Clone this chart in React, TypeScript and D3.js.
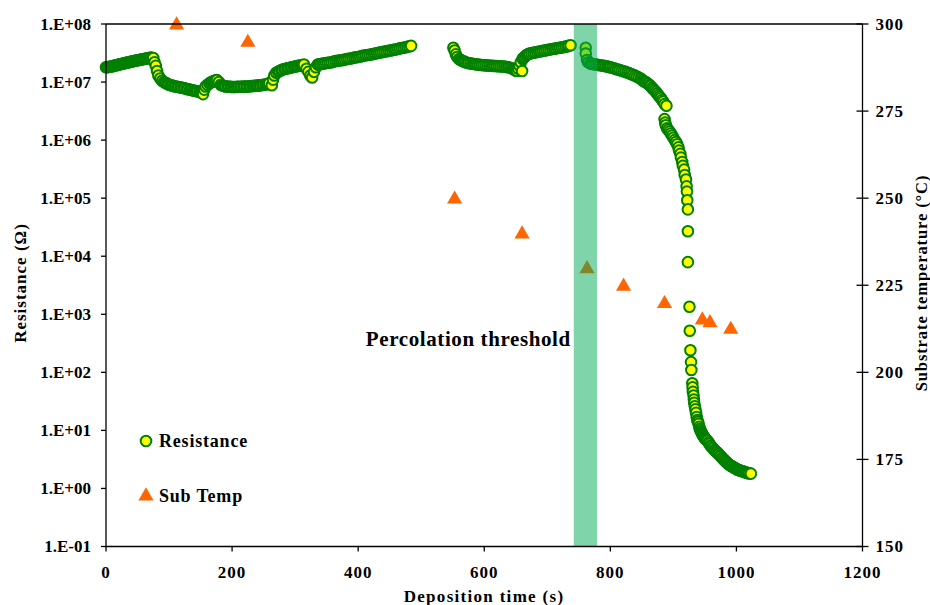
import * as d3 from "d3";

// axis ticks
const timeTicks = [0, 200, 400, 600, 800, 1000, 1200];
const resTicks = [1e-1, 1e0, 1e1, 1e2, 1e3, 1e4, 1e5, 1e6, 1e7, 1e8];
const resTickLabels = ["1.E-01", "1.E+00", "1.E+01", "1.E+02", "1.E+03", "1.E+04", "1.E+05", "1.E+06", "1.E+07", "1.E+08"];
const tempTicks = [150, 175, 200, 225, 250, 275, 300];

// substrate temperature (triangles)
const tempTime = [112, 225, 553, 660, 763, 821, 886, 946, 958, 991];
const tempValue = [300, 295, 250, 240, 230, 225, 220, 215.3, 214.5, 212.6];

// percolation threshold band (s)
const thresholdStart = 742;
const thresholdEnd = 779;

// resistance: [time (s), ohm]
const resistance: [number, number][] = [
  [0, 1.8e7], [2, 1.81e7], [4, 1.82e7], [6, 1.84e7], [8, 1.85e7], [10, 1.87e7], [12, 1.9e7], [14, 1.92e7],
  [16, 1.95e7], [18, 1.97e7], [20, 2.0e7], [22, 2.02e7], [24, 2.05e7], [26, 2.07e7], [28, 2.1e7], [30, 2.12e7],
  [32, 2.15e7], [34, 2.17e7], [36, 2.2e7], [38, 2.22e7], [40, 2.25e7], [42, 2.27e7], [44, 2.3e7], [46, 2.32e7],
  [48, 2.35e7], [50, 2.37e7], [52, 2.4e7], [54, 2.42e7], [56, 2.45e7], [58, 2.47e7], [60, 2.5e7], [62, 2.52e7],
  [64, 2.55e7], [66, 2.57e7], [68, 2.6e7], [70, 2.62e7], [72, 2.65e7], [75, 2.6e7], [77, 2.2e7], [79, 1.9e7],
  [81, 1.55e7], [83, 1.3e7], [86, 1.15e7], [89, 1.05e7], [92, 1.0e7], [94, 9.7e6], [96, 9.5e6], [98, 9.2e6],
  [100, 9.0e6], [103, 8.8e6], [105, 8.7e6], [108, 8.5e6], [110, 8.4e6], [113, 8.3e6], [115, 8.2e6], [118, 8.1e6],
  [120, 8.0e6], [123, 7.9e6], [125, 7.8e6], [128, 7.6e6], [130, 7.5e6], [133, 7.4e6], [135, 7.3e6], [138, 7.2e6],
  [140, 7.1e6], [143, 7.0e6], [145, 6.9e6], [148, 6.8e6], [150, 6.7e6], [152, 6.5e6], [154, 6.2e6],
  [156, 7.4e6], [158, 8.4e6], [161, 9.0e6], [164, 9.5e6], [166, 9.8e6], [168, 1.0e7], [170, 1.03e7], [172, 1.05e7],
  [174, 1.07e7], [176, 1.08e7], [179, 1.0e7], [182, 9.0e6], [184, 8.8e6], [186, 8.6e6], [188, 8.5e6], [190, 8.4e6],
  [193, 8.35e6], [195, 8.3e6], [198, 8.25e6], [200, 8.2e6], [203, 8.2e6], [205, 8.2e6], [208, 8.25e6], [210, 8.3e6],
  [213, 8.3e6], [215, 8.3e6], [218, 8.35e6], [220, 8.4e6], [223, 8.4e6], [225, 8.4e6], [228, 8.45e6], [230, 8.5e6],
  [233, 8.55e6], [235, 8.6e6], [238, 8.65e6], [240, 8.7e6], [243, 8.75e6], [245, 8.8e6], [248, 8.9e6], [250, 9.0e6],
  [253, 9.1e6], [255, 9.2e6], [257, 9.3e6], [259, 9.5e6], [263, 8.8e6], [265, 1.1e7], [267, 1.3e7], [270, 1.45e7],
  [273, 1.5e7], [275, 1.55e7], [278, 1.6e7], [280, 1.65e7], [283, 1.68e7], [285, 1.7e7], [288, 1.73e7], [290, 1.75e7],
  [293, 1.78e7], [295, 1.8e7], [298, 1.83e7], [300, 1.85e7], [303, 1.88e7], [305, 1.9e7], [308, 1.93e7], [310, 1.95e7],
  [312, 1.97e7], [314, 2.0e7], [318, 1.7e7], [321, 1.5e7], [324, 1.3e7], [327, 1.2e7], [330, 1.5e7], [333, 1.8e7],
  [336, 2.0e7], [338, 2.02e7], [340, 2.05e7], [343, 2.07e7], [346, 2.1e7], [349, 2.12e7], [352, 2.15e7], [355, 2.17e7],
  [358, 2.2e7], [361, 2.25e7], [364, 2.3e7], [367, 2.32e7], [370, 2.35e7], [373, 2.37e7], [376, 2.4e7], [379, 2.45e7],
  [382, 2.5e7], [385, 2.52e7], [388, 2.55e7], [391, 2.6e7], [394, 2.65e7], [397, 2.67e7], [400, 2.7e7], [403, 2.75e7],
  [406, 2.8e7], [409, 2.85e7], [412, 2.9e7], [415, 2.92e7], [418, 2.95e7], [421, 3.0e7], [424, 3.05e7], [427, 3.1e7],
  [430, 3.15e7], [433, 3.2e7], [436, 3.25e7], [439, 3.3e7], [442, 3.35e7], [445, 3.4e7], [448, 3.45e7], [451, 3.5e7],
  [454, 3.55e7], [457, 3.6e7], [460, 3.65e7], [463, 3.72e7], [466, 3.8e7], [469, 3.85e7], [472, 3.9e7], [475, 3.97e7],
  [478, 4.05e7], [481, 4.12e7], [484, 4.2e7],
  [551, 3.9e7], [553, 3.5e7], [555, 3.0e7], [557, 2.7e7], [560, 2.5e7], [562, 2.42e7], [564, 2.35e7], [566, 2.3e7],
  [568, 2.25e7], [570, 2.2e7], [573, 2.15e7], [575, 2.12e7], [578, 2.1e7], [581, 2.07e7], [584, 2.05e7], [587, 2.02e7],
  [590, 2.0e7], [593, 1.98e7], [596, 1.97e7], [599, 1.95e7], [602, 1.94e7], [605, 1.93e7], [608, 1.92e7], [611, 1.91e7],
  [614, 1.9e7], [617, 1.89e7], [620, 1.88e7], [623, 1.87e7], [626, 1.86e7], [629, 1.85e7], [632, 1.85e7], [635, 1.82e7],
  [638, 1.8e7], [641, 1.76e7], [644, 1.72e7], [646, 1.67e7], [648, 1.62e7], [650, 1.58e7], [652, 1.55e7], [654, 1.7e7],
  [656, 1.9e7], [658, 2.2e7], [660, 1.55e7], [661, 2.5e7], [662, 2.6e7], [664, 2.7e7], [666, 2.85e7], [668, 2.95e7],
  [670, 3.05e7], [672, 3.1e7], [675, 3.15e7], [678, 3.2e7], [681, 3.25e7], [684, 3.3e7], [687, 3.35e7], [690, 3.4e7],
  [693, 3.45e7], [696, 3.5e7], [699, 3.55e7], [702, 3.6e7], [705, 3.65e7], [708, 3.7e7], [711, 3.75e7], [714, 3.8e7],
  [717, 3.85e7], [720, 3.9e7], [723, 3.95e7], [726, 4.0e7], [729, 4.07e7], [732, 4.15e7], [734, 4.2e7], [737, 4.3e7],
  [761, 3.9e7], [761, 3.1e7], [763, 2.4e7], [765, 2.2e7], [768, 2.1e7], [770, 2.07e7], [772, 2.05e7], [775, 2.02e7],
  [778, 2.0e7], [781, 1.97e7], [784, 1.95e7], [787, 1.92e7], [790, 1.9e7], [793, 1.87e7], [796, 1.85e7], [798, 1.82e7],
  [800, 1.8e7], [803, 1.76e7], [806, 1.72e7], [809, 1.68e7], [812, 1.65e7], [815, 1.61e7], [818, 1.57e7], [821, 1.53e7],
  [824, 1.5e7], [827, 1.46e7], [830, 1.42e7], [833, 1.37e7], [836, 1.33e7], [839, 1.29e7], [842, 1.25e7], [845, 1.2e7],
  [848, 1.15e7], [850, 1.1e7], [852, 1.05e7], [854, 1.02e7], [856, 1.0e7], [858, 9.6e6], [860, 9.3e6], [862, 8.9e6],
  [864, 8.5e6], [866, 8.0e6], [868, 7.6e6], [870, 7.2e6], [872, 6.8e6], [874, 6.4e6], [876, 6.0e6], [878, 5.6e6],
  [880, 5.3e6], [882, 4.9e6], [884, 4.6e6], [886, 4.2e6], [889, 3.9e6],
  [886, 2.3e6], [887, 2.0e6], [888, 1.8e6], [890, 1.6e6], [892, 1.5e6], [894, 1.4e6], [896, 1.3e6], [898, 1.2e6],
  [900, 1.1e6], [902, 1.0e6], [904, 9.3e5], [906, 8.5e5], [908, 7.5e5], [909, 6.6e5], [911, 5.8e5], [912, 5.0e5],
  [914, 4.2e5], [915, 3.6e5], [917, 3.1e5], [918, 2.5e5], [920, 2.1e5], [921, 1.6e5], [921.5, 1.3e5], [922, 9.2e4],
  [923, 6.4e4], [923, 2.7e4], [923, 7.9e3], [925.5, 1.35e3], [926, 5.2e2], [927, 2.4e2], [928, 1.5e2], [928.5, 1.1e2],
  [930, 6.5e1], [930.5, 5.5e1], [931, 4.6e1], [932, 4.0e1], [932.5, 3.4e1], [933, 3.0e1], [934, 2.6e1], [935, 2.3e1],
  [936, 2.0e1], [937, 1.7e1], [938, 1.5e1], [939, 1.4e1], [940, 1.3e1], [941, 1.15e1], [942, 1.07e1], [943, 1.0e1],
  [944, 9.5], [945, 9.0], [946, 8.6], [947, 8.2], [948, 7.9], [949, 7.6], [950, 7.3], [951, 7.0], [953, 6.8],
  [954, 6.6], [956, 6.2], [957, 5.9], [959, 5.5], [960, 5.3], [962, 5.0], [963, 4.9], [965, 4.6], [966, 4.5],
  [968, 4.3], [969, 4.2], [971, 4.0], [972, 3.9], [974, 3.7], [975, 3.6], [977, 3.4], [978, 3.3], [980, 3.15],
  [981, 3.05], [983, 2.92], [984, 2.85], [986, 2.72], [987, 2.65], [989, 2.55], [990, 2.5], [992, 2.44], [993, 2.4],
  [995, 2.33], [996, 2.3], [998, 2.24], [999, 2.2], [1001, 2.14], [1002, 2.1], [1004, 2.07], [1005, 2.05], [1007, 2.02],
  [1008, 2.0], [1010, 1.97], [1011, 1.95], [1013, 1.92], [1014, 1.9], [1016, 1.87], [1017, 1.85], [1019, 1.83],
  [1020, 1.82], [1023, 1.8],
];

const W = 930;
const H = 605;
const left = 106;
const right = 862.5;
const top = 24;
const bottom = 546.5;
const font = '"Liberation Serif", "Times New Roman", serif';

export default function App() {
  const x = d3.scaleLinear().domain([0, 1200]).range([left, right]);
  const yRes = d3.scaleLog().domain([1e-1, 1e8]).range([bottom, top]);
  const yTemp = d3.scaleLinear().domain([150, 300]).range([bottom, top]);
  const tri = d3.symbol(d3.symbolTriangle, 100)()!;

  return (
    <svg
      width={W}
      height={H}
      style={{ position: "absolute", left: 0, top: 0, background: "#fff" }}
      fontFamily={font}
      fontWeight="bold"
    >
      {/* resistance points */}
      <g>
        {resistance.map(([t, r], i) => (
          <circle key={i} cx={x(t)} cy={yRes(r)} r={5.3} fill="#ffff00" stroke="#008000" strokeWidth={2} />
        ))}
      </g>

      {/* substrate temperature */}
      <g>
        {tempTime.map((t, i) => (
          <path key={i} d={tri} transform={`translate(${x(t)},${yTemp(tempValue[i]) + 1})`} fill="#ff6600" />
        ))}
      </g>

      {/* percolation band */}
      <rect
        x={x(thresholdStart)}
        y={top}
        width={x(thresholdEnd) - x(thresholdStart)}
        height={bottom - top}
        fill="#00ac54"
        opacity={0.5}
      />

      {/* frame / axes */}
      <g stroke="#000" strokeWidth={1.3}>
        <line x1={left} x2={right} y1={top} y2={top} />
        <line x1={left} x2={right} y1={bottom} y2={bottom} />
        <line x1={left} x2={left} y1={top} y2={bottom} />
        <line x1={right} x2={right} y1={top} y2={bottom} />
      </g>

      {/* left axis */}
      {resTicks.map((v, i) => (
        <g key={i} transform={`translate(0,${yRes(v)})`}>
          <line x1={left - 5} x2={left} stroke="#000" strokeWidth={1.3} />
          <text x={left - 15} dy="0.35em" textAnchor="end" fontSize={17}>
            {resTickLabels[i]}
          </text>
        </g>
      ))}

      {/* bottom axis */}
      {timeTicks.map((v) => (
        <g key={v} transform={`translate(${x(v)},0)`}>
          <line y1={bottom} y2={bottom + 5} stroke="#000" strokeWidth={1.3} />
          <text y={bottom + 26} dy="0.35em" textAnchor="middle" fontSize={17} letterSpacing={1}>
            {v}
          </text>
        </g>
      ))}

      {/* right axis */}
      {tempTicks.map((v) => (
        <g key={v} transform={`translate(0,${yTemp(v)})`}>
          <line x1={right - 6} x2={right + 6} stroke="#000" strokeWidth={1.3} />
          <text x={right + 13} dy="0.35em" textAnchor="start" fontSize={17} letterSpacing={1}>
            {v}
          </text>
        </g>
      ))}

      {/* axis titles */}
      <text transform="translate(26,283) rotate(-90)" textAnchor="middle" fontSize={17} letterSpacing={1}>
        Resistance (Ω)
      </text>
      <text x={484} y={602} textAnchor="middle" fontSize={17} letterSpacing={1.3}>
        Deposition time (s)
      </text>
      <text transform="translate(927,283) rotate(-90)" textAnchor="middle" fontSize={16.5} letterSpacing={0.9}>
        Substrate temperature (°C)
      </text>

      {/* annotation */}
      <text x={x(thresholdStart) - 3} y={346} textAnchor="end" fontSize={21} letterSpacing={0.6}>
        Percolation threshold
      </text>

      {/* legend */}
      <g fontSize={18} letterSpacing={0.8}>
        <circle cx={146} cy={441} r={5.3} fill="#ffff00" stroke="#008000" strokeWidth={2} />
        <text x={159} y={441} dy="0.35em">Resistance</text>
        <path d={tri} transform="translate(146,496)" fill="#ff6600" />
        <text x={159} y={496} dy="0.35em">Sub Temp</text>
      </g>
    </svg>
  );
}
